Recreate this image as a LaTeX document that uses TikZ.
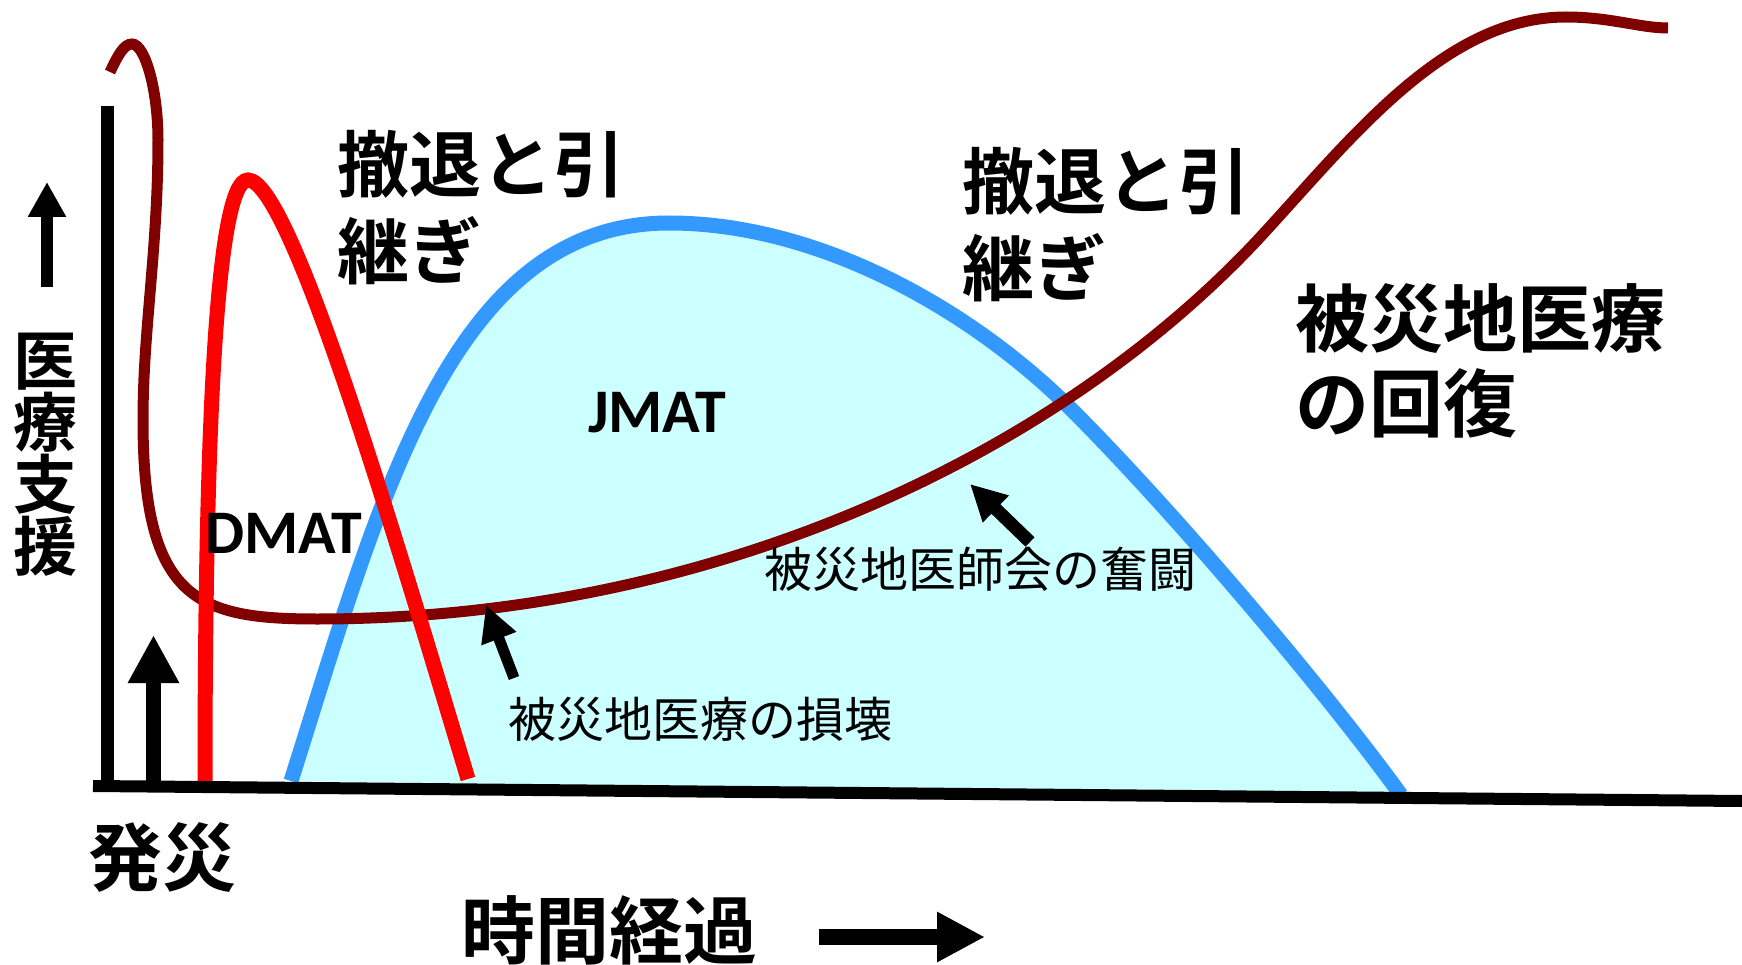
\documentclass[tikz,border=0pt]{standalone}
\usepackage{fontspec}
\setmainfont{Noto Sans CJK JP}
\newfontfamily\jp{Noto Sans CJK JP}[BoldFont={Noto Sans CJK JP Bold}]
\newfontfamily\lat{Carlito}[BoldFont={Carlito Bold}]
\usetikzlibrary{arrows.meta}
\definecolor{drmaroon}{RGB}{128,0,0}
\definecolor{drred}{RGB}{255,0,0}
\definecolor{drblue}{RGB}{51,153,255}
\definecolor{drfill}{RGB}{204,255,255}
\tikzset{
  bigjp/.style={font=\jp\bfseries\fontsize{72}{87}\selectfont, inner sep=0pt, anchor=north west, align=left},
  recjp/.style={font=\jp\bfseries\fontsize{74}{85}\selectfont, inner sep=0pt, anchor=north west, align=left},
  smalljp/.style={font=\jp\fontsize{48}{58}\selectfont, inner sep=0pt, anchor=north west},
  teamlbl/.style={font=\lat\bfseries\fontsize{62}{70}\selectfont, inner sep=0pt, anchor=base west},
  axisline/.style={line width=13pt, black},
  ptr/.style={line width=12pt, black, -{Triangle[length=36pt,width=35pt]}},
  curvemaroon/.style={line width=11pt, drmaroon},
  curvered/.style={line width=15pt, drred},
  curveblue/.style={line width=15pt, drblue},
}
\begin{document}
\begin{tikzpicture}[x=1pt,y=-1pt]
\useasboundingbox (0,0) rectangle (1742,965);
% JMAT area
\coordinate (b0) at (291,781);
\coordinate (bpk) at (669,223);
\coordinate (bmid) at (1072,410);
\coordinate (bend) at (1401,795);
\fill[drfill] (b0) .. controls (380,500) and (450,223) .. (bpk)
  .. controls (819,223) and (972,310) .. (bmid)
  .. controls (1172,510) and (1321,685) .. (bend) -- cycle;
\draw[curveblue] (b0) .. controls (380,500) and (450,223) .. (bpk)
  .. controls (819,223) and (972,310) .. (bmid)
  .. controls (1172,510) and (1321,685) .. (bend);
% local medical recovery curve
\coordinate (m0) at (110,72);
\coordinate (m1) at (132,44);
\coordinate (m2) at (158,140);
\coordinate (m3) at (143,420);
\coordinate (m4) at (317,619);
\coordinate (m5) at (1264,233);
\coordinate (m6) at (1566,17);
\coordinate (m7) at (1668,28);
\draw[curvemaroon] (m0) .. controls (118,55) and (124,44) .. (m1)
  .. controls (145,44) and (158,90) .. (m2)
  .. controls (158,250) and (143,330) .. (m3)
  .. controls (143,600) and (197,619) .. (m4)
  .. controls (717,619) and (1064,451) .. (m5)
  .. controls (1354,135) and (1446,17) .. (m6)
  .. controls (1610,17) and (1640,28) .. (m7);
% DMAT curve
\coordinate (r0) at (205,781);
\coordinate (rpk) at (248,180);
\coordinate (r1) at (468,779);
\draw[curvered] (r0) .. controls (205,450) and (215,180) .. (rpk)
  .. controls (290,180) and (393,529) .. (r1);
% axes
\coordinate (ytop) at (107.5,106);
\coordinate (ybot) at (107.5,787);
\coordinate (xl) at (93,786);
\coordinate (xr) at (1742,801);
\draw[axisline] (ytop) -- (ybot);
\draw[line width=12pt] (xl) -- (xr);
% arrows
\coordinate (sa0) at (47,287); \coordinate (sa1) at (47,182);
\draw[line width=12pt, -{Triangle[length=35pt,width=36pt]}] (sa0) -- (sa1);
\coordinate (ba0) at (153.5,781); \coordinate (ba1) at (153.5,635);
\draw[line width=15pt, -{Triangle[length=48pt,width=48pt]}] (ba0) -- (ba1);
\coordinate (ta0) at (819,937); \coordinate (ta1) at (985,937);
\draw[line width=16pt, -{Triangle[length=48pt,width=47pt]}] (ta0) -- (ta1);
\coordinate (p1a) at (514,678); \coordinate (p1b) at (486,605);
\draw[ptr, line width=11pt] (p1a) -- (p1b);
\coordinate (p2a) at (1030,542); \coordinate (p2b) at (970,484);
\draw[ptr, line width=13pt] (p2a) -- (p2b);
% texts
\node[bigjp] (wd1) at (337,130) {撤退と引\\継ぎ};
\node[bigjp] (wd2) at (962,147) {撤退と引\\継ぎ};
\node[recjp] (rec) at (1295,283) {被災地医療\\の回復};
\node[font=\jp\bfseries\fontsize{64}{62}\selectfont, inner sep=0pt, anchor=north, align=center] (ylab) at (45.5,333) {医\\療\\支\\援};
\node[font=\jp\bfseries\fontsize{74}{85}\selectfont, inner sep=0pt, anchor=north west] (hassai) at (88,822) {発災};
\node[font=\jp\bfseries\fontsize{74}{85}\selectfont, inner sep=0pt, anchor=north west] (jikan) at (461,895) {時間経過};
\node[teamlbl] (dmat) at (205,553) {DMAT};
\node[teamlbl] (jmat) at (588,432) {JMAT};
\node[smalljp] (sonkai) at (508,697) {被災地医療の損壊};
\node[smalljp] (funto) at (764,547) {被災地医師会の奮闘};
\end{tikzpicture}
\end{document}
